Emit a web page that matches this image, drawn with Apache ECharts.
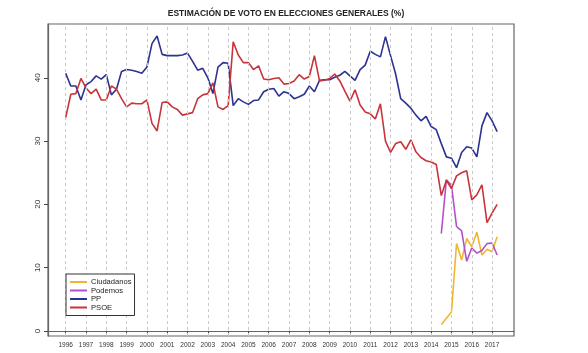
<!DOCTYPE html>
<html>
<head>
<meta charset="utf-8">
<script src="https://cdn.jsdelivr.net/npm/echarts@6/dist/echarts.min.js"></script>
<style>
  html, body { margin: 0; padding: 0; background: #fff; }
  #chart { width: 588px; height: 353px; }
</style>
</head>
<body>
<div id="chart"></div>
<script>
// barómetros trimestrales, 1996 T1 .. 2017 T2
const quarters = [
  1996, 1996.25, 1996.5, 1996.75, 1997, 1997.25, 1997.5, 1997.75,
  1998, 1998.25, 1998.5, 1998.75, 1999, 1999.25, 1999.5, 1999.75,
  2000, 2000.25, 2000.5, 2000.75, 2001, 2001.25, 2001.5, 2001.75,
  2002, 2002.25, 2002.5, 2002.75, 2003, 2003.25, 2003.5, 2003.75,
  2004, 2004.25, 2004.5, 2004.75, 2005, 2005.25, 2005.5, 2005.75,
  2006, 2006.25, 2006.5, 2006.75, 2007, 2007.25, 2007.5, 2007.75,
  2008, 2008.25, 2008.5, 2008.75, 2009, 2009.25, 2009.5, 2009.75,
  2010, 2010.25, 2010.5, 2010.75, 2011, 2011.25, 2011.5, 2011.75,
  2012, 2012.25, 2012.5, 2012.75, 2013, 2013.25, 2013.5, 2013.75,
  2014, 2014.25, 2014.5, 2014.75, 2015, 2015.25, 2015.5, 2015.75,
  2016, 2016.25, 2016.5, 2016.75, 2017, 2017.25
];

const pp = [
  40.7, 38.7, 38.7, 36.5, 38.9, 39.4, 40.3, 39.8,
  40.5, 37.3, 38.2, 41.0, 41.3, 41.2, 41.0, 40.7,
  41.7, 45.4, 46.6, 43.7, 43.5, 43.5, 43.5, 43.6,
  43.9, 42.6, 41.2, 41.5, 40.0, 37.5, 41.7, 42.4,
  42.3, 35.6, 36.7, 36.2, 35.8, 36.4, 36.5, 37.8,
  38.2, 38.3, 37.1, 37.8, 37.5, 36.7, 37.0, 37.4,
  38.7, 37.8, 39.6, 39.7, 39.7, 40.1, 40.4, 41.0,
  40.3, 39.6, 41.3, 42.0, 44.2, 43.7, 43.3, 46.5,
  43.5, 40.6, 36.7, 36.0, 35.2, 34.1, 33.2, 33.9,
  32.3, 31.8, 29.6, 27.5, 27.3, 25.8, 28.2, 29.1,
  28.9, 27.5, 32.4, 34.5, 33.2, 31.5
];

const psoe = [
  33.7, 37.4, 37.5, 39.9, 38.4, 37.5, 38.2, 36.5,
  36.5, 38.7, 38.2, 36.7, 35.4, 36.0, 35.9, 35.9,
  36.5, 32.8, 31.6, 36.1, 36.2, 35.4, 35.0, 34.1,
  34.3, 34.5, 36.7, 37.3, 37.5, 39.2, 35.4, 35.0,
  35.6, 45.7, 43.6, 42.4, 42.4, 41.3, 41.9, 39.8,
  39.7, 39.9, 40.0, 39.0, 39.1, 39.5, 40.5, 39.8,
  40.2, 43.5, 39.5, 39.6, 39.9, 40.6, 39.5, 37.9,
  36.3, 38.1, 35.7, 34.6, 34.3, 33.5, 35.9, 30.0,
  28.2, 29.6, 29.9, 28.7, 30.2, 28.3, 27.4, 26.9,
  26.7, 26.3, 21.4, 23.8, 22.5, 24.5, 25.0, 25.3,
  20.7, 21.5, 23.1, 17.1, 18.6, 20.0
];

// Podemos y Ciudadanos aparecen desde 2014 T3
const podemos = [
  15.4, 23.9, 23.0, 16.5, 15.8, 11.0, 13.1, 12.3, 12.7, 13.8, 13.9, 12.0
];
const ciudadanos = [
  1.0, 2.0, 3.0, 13.8, 11.2, 14.6, 13.3, 15.6, 12.0, 12.9, 12.5, 14.9
];

const yearTicks = [
  1996, 1997, 1998, 1999, 2000, 2001, 2002, 2003, 2004, 2005, 2006,
  2007, 2008, 2009, 2010, 2011, 2012, 2013, 2014, 2015, 2016, 2017
];
const voteTicks = [0, 10, 20, 30, 40];

const colors = {
  ciudadanos: '#f0b630',
  podemos: '#b450c8',
  pp: '#2c3390',
  psoe: '#c7343a'
};

const pairs = (vals, offset) => vals.map((v, i) => [quarters[i + offset], v]);
const lateStart = quarters.length - podemos.length;

const chart = echarts.init(document.getElementById('chart'));

const lineSeries = (name, vals, offset, color) => ({
  name: name,
  type: 'line',
  data: pairs(vals, offset),
  showSymbol: false,
  symbol: 'none',
  lineStyle: { color: color, width: 1.6 },
  itemStyle: { color: color },
  z: 3
});

chart.setOption({
  animation: false,
  title: {
    text: 'ESTIMACIÓN DE VOTO EN ELECCIONES GENERALES (%)',
    left: 281,
    top: 4,
    textAlign: 'center',
    textStyle: { fontFamily: 'Liberation Sans', fontSize: 8.5, fontWeight: 'bold', color: '#222' }
  },
  legend: {
    orient: 'vertical',
    left: 66,
    top: 274,
    padding: [4, 3, 4, 4],
    itemGap: 0.5,
    itemWidth: 17,
    itemHeight: 2,
    icon: 'rect',
    borderColor: '#333',
    borderWidth: 1,
    backgroundColor: '#fff',
    z: 10,
    data: ['Ciudadanos', 'Podemos', 'PP', 'PSOE'],
    textStyle: { fontFamily: 'Liberation Sans', fontSize: 7.6, color: '#222', padding: [0, 0, 0, -1], lineHeight: 8 }
  },
  grid: {
    left: 48, right: 74, top: 24, bottom: 17,
    show: true,
    borderColor: '#666',
    borderWidth: 1.2
  },
  xAxis: {
    type: 'value',
    min: 1995.128,
    max: 2018.08,
    axisLine: { show: true, lineStyle: { color: '#666', width: 1.2 } },
    axisTick: { show: true, length: 4, customValues: yearTicks, lineStyle: { color: '#444' } },
    axisLabel: {
      customValues: yearTicks,
      formatter: (v) => String(v),
      fontFamily: 'Liberation Sans',
      fontSize: 6.5,
      color: '#333',
      margin: 6
    },
    splitLine: { show: false }
  },
  yAxis: {
    type: 'value',
    min: -0.8,
    max: 48.5,
    axisLine: { show: true, lineStyle: { color: '#666', width: 1.2 } },
    axisTick: { show: true, length: 4, customValues: voteTicks, lineStyle: { color: '#444' } },
    axisLabel: {
      customValues: voteTicks,
      rotate: 90,
      fontFamily: 'Liberation Sans',
      fontSize: 8,
      color: '#333',
      margin: 6
    },
    splitLine: { show: false }
  },
  series: [
    // líneas verticales discontinuas en cada año
    {
      name: 'grid-years',
      type: 'line',
      data: [],
      z: 1,
      markLine: {
        silent: true,
        symbol: 'none',
        label: { show: false },
        lineStyle: { color: '#c8c8c8', type: [3, 3], width: 1 },
        data: yearTicks.map(y => ({ xAxis: y }))
      }
    },
    lineSeries('Ciudadanos', ciudadanos, lateStart, colors.ciudadanos),
    lineSeries('Podemos', podemos, lateStart, colors.podemos),
    lineSeries('PP', pp, 0, colors.pp),
    lineSeries('PSOE', psoe, 0, colors.psoe)
  ]
});
</script>
</body>
</html>
